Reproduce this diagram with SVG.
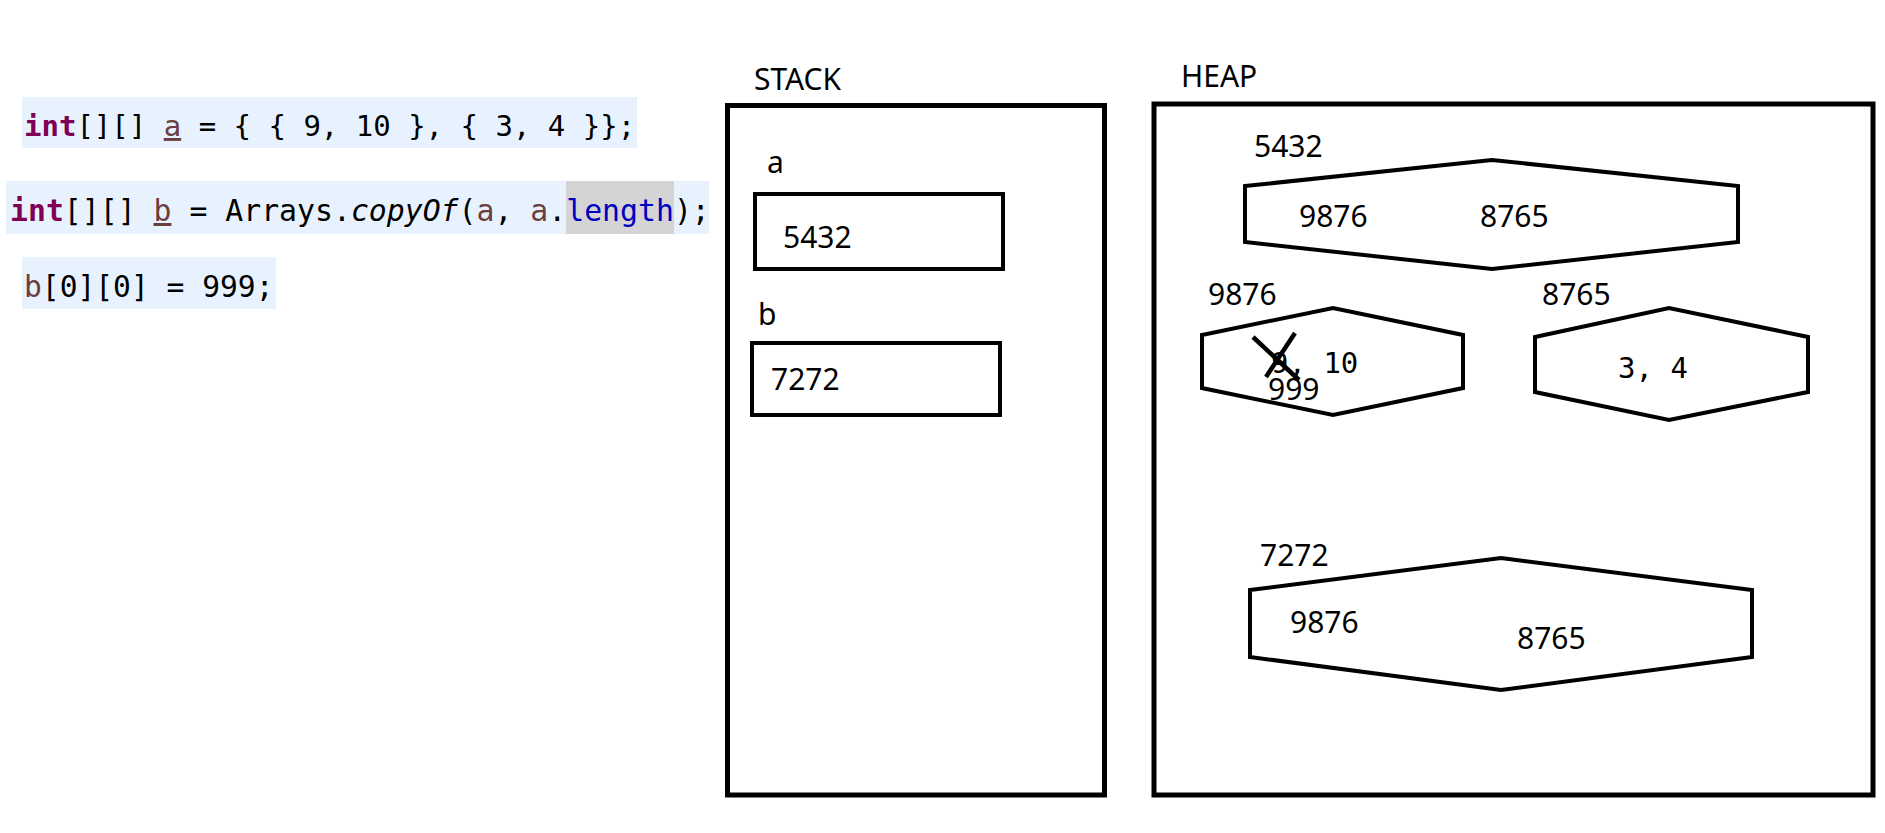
<svg xmlns="http://www.w3.org/2000/svg" width="1885" height="833" viewBox="0 0 1885 833">
<style>
.code{font-family:"DejaVu Sans Mono","Liberation Mono",monospace;fill:#000}
.kw{fill:#7f0055;font-weight:bold}
.var{fill:#6a3e3e}
.ul{text-decoration:underline}
.fld{fill:#0000c0}
.it{font-style:italic}
.lbl{font-family:"Noto Sans","Open Sans","Liberation Sans",sans-serif;font-size:30px;fill:#000}
.mono{font-family:"DejaVu Sans Mono","Liberation Mono",monospace;font-size:29px;fill:#000}
.box{fill:#fff;stroke:#000;stroke-width:4}
.frame{fill:none;stroke:#000;stroke-width:5}
.hl{fill:#e8f2fe}
.cross{stroke:#000;stroke-width:4.5}
</style>
<rect width="1885" height="833" fill="#fff"/>
<g id="code">
<rect class="hl" x="22" y="97" width="615" height="51"/>
<rect class="hl" x="6" y="181" width="703" height="53"/>
<rect x="566" y="181" width="108" height="53" fill="#d4d4d4"/>
<rect class="hl" x="22" y="257" width="254" height="52"/>
<text class="code" x="24" y="136" font-size="29" xml:space="preserve"><tspan class="kw">int</tspan>[][] <tspan class="var ul">a</tspan> = { { 9, 10 }, { 3, 4 }};</text>
<text class="code" x="10" y="221" font-size="29.8" xml:space="preserve"><tspan class="kw">int</tspan>[][] <tspan class="var ul">b</tspan> = Arrays.<tspan class="it">copyOf</tspan>(<tspan class="var">a</tspan>, <tspan class="var">a</tspan>.<tspan class="fld">length</tspan>);</text>
<text class="code" x="24" y="297" font-size="29.6" xml:space="preserve"><tspan class="var">b</tspan>[0][0] = 999;</text>
</g>
<g id="stack">
<text class="lbl" x="754" y="90">STACK</text>
<rect class="frame" x="727.5" y="105.5" width="377" height="689.5"/>
</g>
<g id="stack-a">
<text class="lbl" x="767" y="173">a</text>
<rect class="box" x="755" y="194" width="248" height="75"/>
<text class="lbl" x="783" y="248">5432</text>
</g>
<g id="stack-b">
<text class="lbl" x="758" y="325">b</text>
<rect class="box" x="752" y="343" width="248" height="72"/>
<text class="lbl" x="771" y="390">7272</text>
</g>
<g id="heap">
<text class="lbl" x="1181" y="87">HEAP</text>
<rect class="frame" x="1154" y="104" width="719" height="691"/>
</g>
<g id="heap-5432">
<text class="lbl" x="1254" y="157">5432</text>
<polygon class="box" points="1245,186 1492,160 1738,186 1738,242 1492,269 1245,242"/>
<text class="lbl" x="1299" y="227">9876</text>
<text class="lbl" x="1480" y="227">8765</text>
</g>
<g id="heap-9876">
<text class="lbl" x="1208" y="305">9876</text>
<polygon class="box" points="1202,335 1333,308 1463,335 1463,388 1333,415 1202,388"/>
<text class="mono" x="1271" y="373" xml:space="preserve">9, 10</text>
<text class="lbl" x="1268" y="400">999</text>
<line class="cross" x1="1253" y1="337" x2="1299" y2="380"/>
<line class="cross" x1="1295" y1="333" x2="1266" y2="377"/>
</g>
<g id="heap-8765">
<text class="lbl" x="1542" y="305">8765</text>
<polygon class="box" points="1535,337 1669,308 1808,337 1808,392 1669,420 1535,392"/>
<text class="mono" x="1618" y="378" xml:space="preserve">3, 4</text>
</g>
<g id="heap-7272">
<text class="lbl" x="1260" y="566">7272</text>
<polygon class="box" points="1250,590 1501,558 1752,590 1752,657 1501,690 1250,657"/>
<text class="lbl" x="1290" y="633">9876</text>
<text class="lbl" x="1517" y="649">8765</text>
</g>
<g id="connectors"></g>
</svg>
